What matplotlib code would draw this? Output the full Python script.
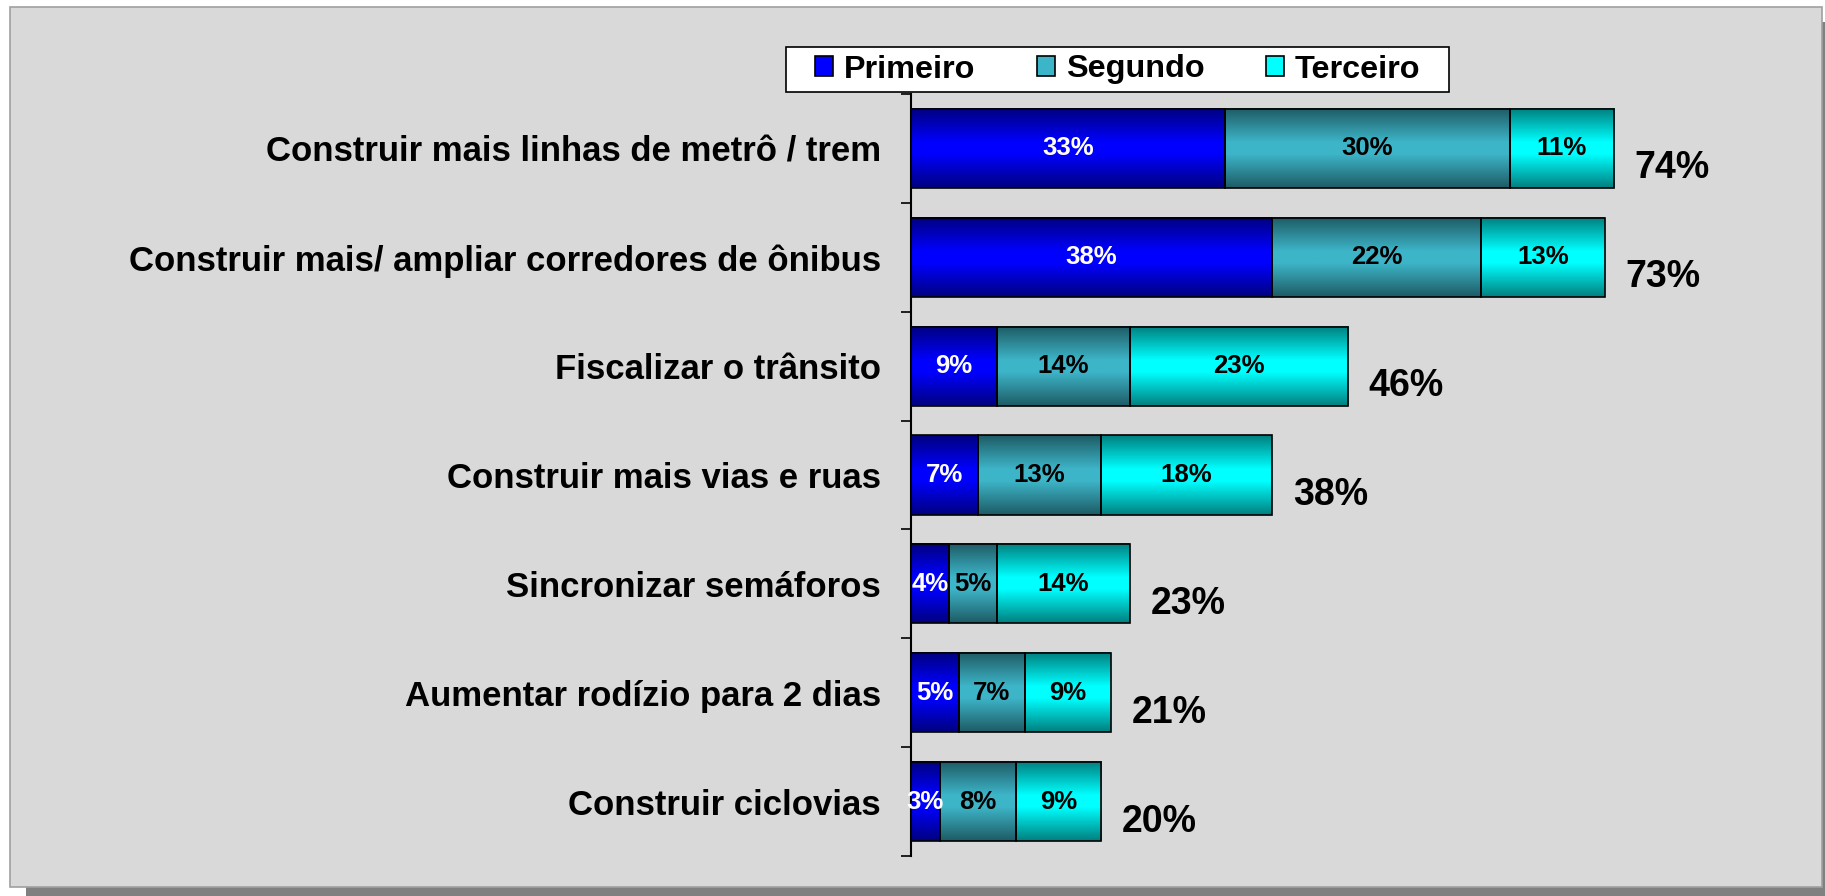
import numpy as np
import matplotlib.pyplot as plt
from matplotlib.patches import Rectangle
from matplotlib.colors import to_rgb

plt.rcParams['font.family'] = ['Liberation Sans', 'DejaVu Sans']
plt.rcParams['font.weight'] = 'bold'

# --- dados ---
categorias = [
    "Construir mais linhas de metrô / trem",
    "Construir mais/ ampliar corredores de ônibus",
    "Fiscalizar o trânsito",
    "Construir mais vias e ruas",
    "Sincronizar semáforos",
    "Aumentar rodízio para 2 dias",
    "Construir ciclovias",
]
primeiro = [33, 38, 9, 7, 4, 5, 3]
segundo = [30, 22, 14, 13, 5, 7, 8]
terceiro = [11, 13, 23, 18, 14, 9, 9]
totais = [74, 73, 46, 38, 23, 21, 20]
series_nomes = ["Primeiro", "Segundo", "Terceiro"]

# cor do meio / cor da borda do gradiente
cores_centro = ["#0000FF", "#3DB5C8", "#00FFFF"]
cores_borda = ["#000080", "#1E5C66", "#008080"]
cores_texto = ["white", "black", "black"]

W, H = 1825, 896
fig = plt.figure(figsize=(W / 100, H / 100), dpi=100, facecolor="white")


def fig_rect(x, y, w, h, **kw):
    # retangulo em pixels (origem em cima a esquerda)
    r = Rectangle((x / W, 1 - (y + h) / H), w / W, h / H, transform=fig.transFigure, **kw)
    fig.add_artist(r)
    return r


# sombra + painel cinza
fig_rect(26, 22, 1830, 900, facecolor="#808080", edgecolor="none", zorder=-20)
fig_rect(10, 7, 1812, 880, facecolor="#D9D9D9", edgecolor="#A0A0A0", linewidth=1.2, zorder=-15)
# caixa da legenda
fig_rect(786, 47, 663, 45, facecolor="white", edgecolor="black", linewidth=1.2, zorder=-5)

x_left = 911
px_per = 9.50
xmax = 90
ax = fig.add_axes([x_left / W, 40 / H, xmax * px_per / W, 762 / H])
ax.set_facecolor("none")

y = np.arange(len(categorias))
altura = 0.726


def gradiente(c_centro, c_borda, n=64):
    t = np.abs(np.linspace(-1, 1, n))
    f = np.clip((t - 0.15) / 0.85, 0, 1)[:, None]
    a = np.array(to_rgb(c_centro))
    b = np.array(to_rgb(c_borda))
    return (a * (1 - f) + b * f)[:, None, :]


esquerda = np.zeros(len(categorias))
handles = []
for k, vals in enumerate([primeiro, segundo, terceiro]):
    vals = np.array(vals)
    bars = ax.barh(y, vals, left=esquerda, height=altura, facecolor="none",
                   edgecolor="black", linewidth=1.2, zorder=3, label=series_nomes[k])
    grad = gradiente(cores_centro[k], cores_borda[k])
    for p, v in zip(bars.patches, vals):
        x0, y0, w, h = p.get_x(), p.get_y(), p.get_width(), p.get_height()
        ax.imshow(grad, extent=[x0, x0 + w, y0 + h, y0], aspect="auto", zorder=2,
                  interpolation="bilinear")
        ax.text(x0 + w / 2, y0 + h / 2, f"{v}%", ha="center", va="center",
                color=cores_texto[k], fontsize=18.5, fontweight="bold", zorder=4)
    handles.append(Rectangle((0, 0), 1, 1, facecolor=cores_centro[k], edgecolor="black", linewidth=1.2))
    esquerda = esquerda + vals

for i, t in enumerate(totais):
    ax.annotate(f"{t}%", xy=(t, i), xytext=(15, -14.4), textcoords="offset points",
                ha="left", va="center", fontsize=27, fontweight="bold", color="black")

ax.set_xlim(0, xmax)
ax.set_ylim(len(categorias) - 0.5, -0.5)

ax.set_yticks(y)
ax.set_yticklabels(categorias, fontsize=25, fontweight="bold")
ax.tick_params(axis="y", which="major", length=0, pad=21.6)
ax.set_yticks(np.arange(len(categorias) + 1) - 0.5, minor=True)
ax.tick_params(axis="y", which="minor", length=7, width=1.2, direction="out", color="black")
ax.set_xticks([])

for s in ["top", "right", "bottom"]:
    ax.spines[s].set_visible(False)
ax.spines["left"].set_linewidth(1.5)

leg = ax.legend(handles, series_nomes, ncol=3, frameon=False, loc="center",
                bbox_to_anchor=((786 + 663 / 2) / W, 1 - (47 + 45 / 2) / H),
                bbox_transform=fig.transFigure, handlelength=0.56,
                handleheight=0.56, handletextpad=0.34, columnspacing=1.9,
                borderpad=0.1, prop={"weight": "bold", "size": 23.3})

fig.savefig("out.png", dpi=100, facecolor=fig.get_facecolor())
